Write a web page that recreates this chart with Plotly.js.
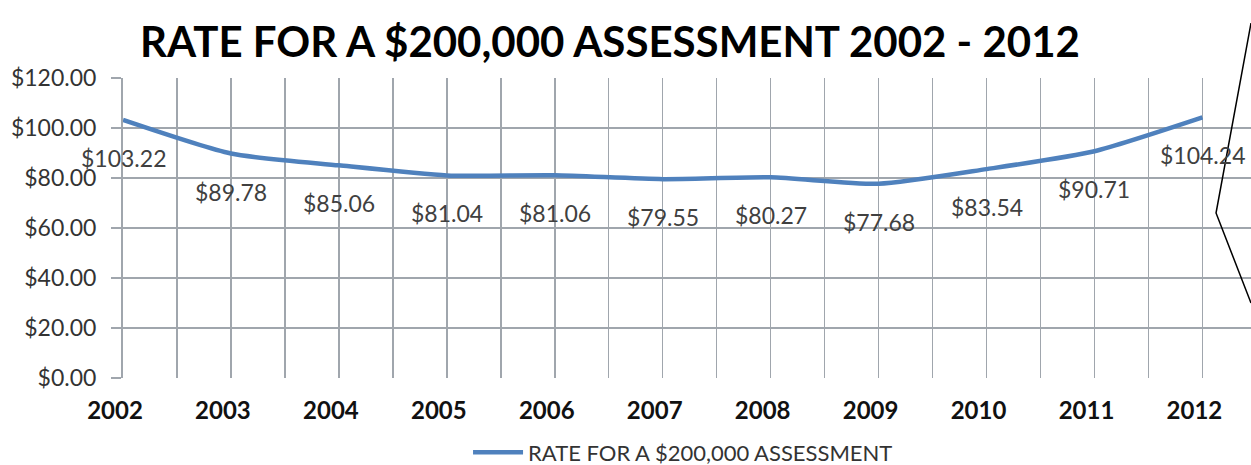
<!DOCTYPE html>
<html>
<head>
<meta charset="utf-8">
<script src="https://cdn.plot.ly/plotly-3.0.1.min.js"></script>
<style>html,body{margin:0;padding:0;background:#fff;}#chart{width:1251px;height:465px;}</style>
</head>
<body>
<div id="chart"></div>
<script>
const years = [2002, 2003, 2004, 2005, 2006, 2007, 2008, 2009, 2010, 2011, 2012];
const rates = [103.22, 89.78, 85.06, 81.04, 81.06, 79.55, 80.27, 77.68, 83.54, 90.71, 104.24];
const seriesName = 'RATE FOR A $200,000 ASSESSMENT';
const chartTitle = 'RATE FOR A $200,000 ASSESSMENT 2002 - 2012';

const trace = {
  x: years, y: rates, name: seriesName, type: 'scatter', mode: 'lines',
  line: {color: '#4F81BD', width: 4.5, shape: 'spline', smoothing: 0.6},
  hoverinfo: 'skip'
};

const annotations = years.map((yr, i) => ({
  x: yr, y: rates[i], xref: 'x', yref: 'y',
  text: '$' + rates[i].toFixed(2), showarrow: false, yshift: -38,
  font: {family: 'Lato, sans-serif', size: 23, color: '#404040'}
}));

const layout = {
  width: 1251, height: 465,
  margin: {l: 123, r: 0, t: 78, b: 87},
  paper_bgcolor: '#fff', plot_bgcolor: '#fff',
  title: {text: '<b>' + chartTitle + '</b>', x: 0.4876, xref: 'container', xanchor: 'center',
          y: 0.91, yref: 'container', yanchor: 'middle',
          font: {family: 'Lato, sans-serif', size: 42, color: '#000'}},
  xaxis: {range: [2002, 2012.45], tickmode: 'array', tickvals: years, ticktext: years.map(String),
          showgrid: true, gridcolor: '#a0a6ad', gridwidth: 1.5,
          minor: {dtick: 0.5, tick0: 2002, showgrid: true, gridcolor: '#a0a6ad', gridwidth: 1.5},
          zeroline: false, showline: false, ticks: '', ticklabelshift: -8, ticklabelstandoff: 16,
          tickfont: {family: 'Lato, sans-serif', size: 24, color: '#111', weight: 'bold'}},
  yaxis: {range: [0, 120], dtick: 20, tickprefix: '$', tickformat: '.2f',
          showgrid: true, gridcolor: '#a0a6ad', gridwidth: 1.5, zeroline: false,
          showline: true, linecolor: '#a0a6ad', linewidth: 2,
          ticks: 'outside', ticklen: 10, tickcolor: '#a0a6ad', tickwidth: 1.5, ticklabelstandoff: 10,
          tickfont: {family: 'Lato, sans-serif', size: 23, color: '#333'}},
  showlegend: true,
  legend: {orientation: 'h', x: 0.546, xref: 'container', xanchor: 'center', y: 0.027, yref: 'container', yanchor: 'middle',
           font: {family: 'Lato, sans-serif', size: 22, color: '#333'}, itemwidth: 50},
  annotations: annotations,
  shapes: [{type: 'path', xref: 'paper', yref: 'paper',
            path: 'M 1.0 1.183 L 0.969 0.55 L 1.0 0.25', line: {color: '#000', width: 1.5}}]
};

Plotly.newPlot('chart', [trace], layout, {displayModeBar: false, staticPlot: true});
</script>
</body>
</html>
